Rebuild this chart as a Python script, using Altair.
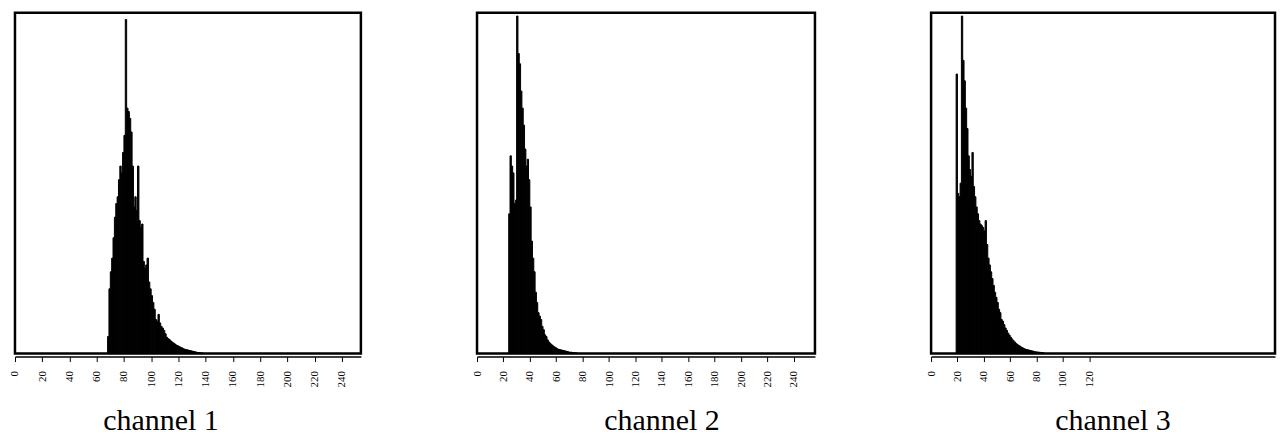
import altair as alt
import pandas as pd

# ---- data (relative frequency, peak ~1) ----
channel_names = ["channel 1", "channel 2", "channel 3"]

ch1_start = 68
ch1_values = [0.05, 0.19, 0.24, 0.28, 0.34, 0.40, 0.44, 0.46, 0.51, 0.55,
              0.53, 0.59, 0.64, 0.98, 0.72, 0.71, 0.69, 0.65, 0.55, 0.43,
              0.46, 0.42, 0.55, 0.39, 0.37, 0.38, 0.27, 0.25, 0.26, 0.28,
              0.21, 0.19, 0.17, 0.15, 0.13, 0.10, 0.095, 0.115, 0.09, 0.08,
              0.075, 0.068, 0.058, 0.048, 0.044, 0.041, 0.037, 0.034, 0.031, 0.028,
              0.025, 0.023, 0.021, 0.019, 0.017, 0.015, 0.013, 0.012, 0.011, 0.010,
              0.009, 0.008, 0.007, 0.006, 0.005, 0.004, 0.003, 0.003, 0.002, 0.002]

ch2_start = 24
ch2_values = [0.41, 0.58, 0.55, 0.53, 0.44, 0.45, 0.99, 0.88, 0.85, 0.77,
              0.72, 0.67, 0.60, 0.55, 0.57, 0.51, 0.43, 0.33, 0.28, 0.24,
              0.18, 0.15, 0.12, 0.11, 0.10, 0.08, 0.07, 0.055, 0.05, 0.04,
              0.034, 0.03, 0.026, 0.023, 0.02, 0.018, 0.015, 0.013, 0.012, 0.011,
              0.010, 0.009, 0.008, 0.007, 0.006, 0.005, 0.004, 0.004, 0.003, 0.003,
              0.002, 0.002]

ch3_start = 19
ch3_values = [0.82, 0.47, 0.46, 0.50, 0.99, 0.86, 0.80, 0.72, 0.66, 0.58,
              0.54, 0.52, 0.59, 0.49, 0.46, 0.43, 0.41, 0.39, 0.38, 0.375,
              0.37, 0.36, 0.39, 0.32, 0.28, 0.26, 0.24, 0.22, 0.20, 0.18,
              0.165, 0.15, 0.13, 0.12, 0.10, 0.095, 0.085, 0.075, 0.068, 0.06,
              0.054, 0.048, 0.043, 0.038, 0.034, 0.030, 0.027, 0.024, 0.022, 0.019,
              0.017, 0.015, 0.013, 0.012, 0.011, 0.010, 0.009, 0.008, 0.007, 0.006,
              0.005, 0.005, 0.004, 0.004, 0.003, 0.003, 0.002]

x_max = [254, 256, 261]
tick_values = [list(range(0, 241, 20)), list(range(0, 241, 20)), list(range(0, 121, 20))]

# ---- layout ----
widths = [347, 339, 345]
panel_height = 342
title_x = [146, 185, 182]

FONT = "Liberation Serif"


def panel(i, start, vals):
    df = pd.DataFrame({"level": [start + k for k in range(len(vals))], "freq": vals})
    df["level_end"] = df["level"] + 1
    df["base"] = 0.0
    return (
        alt.Chart(df)
        .mark_rect(color="black", stroke="black", strokeWidth=1)
        .encode(
            x=alt.X(
                "level:Q",
                scale=alt.Scale(domain=[0, x_max[i]], nice=False, zero=True),
                axis=alt.Axis(
                    values=tick_values[i],
                    title=channel_names[i],
                    labelAngle=270,
                    labelFlush=False,
                    labelOverlap=False,
                    titleX=title_x[i],
                    titleY=73,
                    titleAlign="center",
                    titleBaseline="alphabetic",
                ),
            ),
            x2="level_end:Q",
            y=alt.Y("freq:Q", scale=alt.Scale(domain=[0, 1]), axis=None),
            y2="base:Q",
        )
        .properties(width=widths[i], height=panel_height)
    )


chart = (
    alt.hconcat(
        panel(0, ch1_start, ch1_values),
        panel(1, ch2_start, ch2_values),
        panel(2, ch3_start, ch3_values),
        spacing=116.5,
        bounds="flush",
    )
    .properties(padding={"left": -1, "top": 2, "right": 0, "bottom": 0}, background="white")
    .configure_view(stroke="black", strokeWidth=2.5)
    .configure_axis(
        grid=False,
        offset=3,
        domainColor="black",
        domainWidth=1.5,
        tickColor="black",
        tickWidth=1,
        tickSize=5,
        labelFont=FONT,
        labelFontSize=11,
        labelColor="black",
        labelPadding=9,
        titleFont=FONT,
        titleFontSize=30,
        titleFontWeight="normal",
        titleColor="black",
    )
)

chart.save("out.html", embed_options={"renderer": "svg", "actions": False})
